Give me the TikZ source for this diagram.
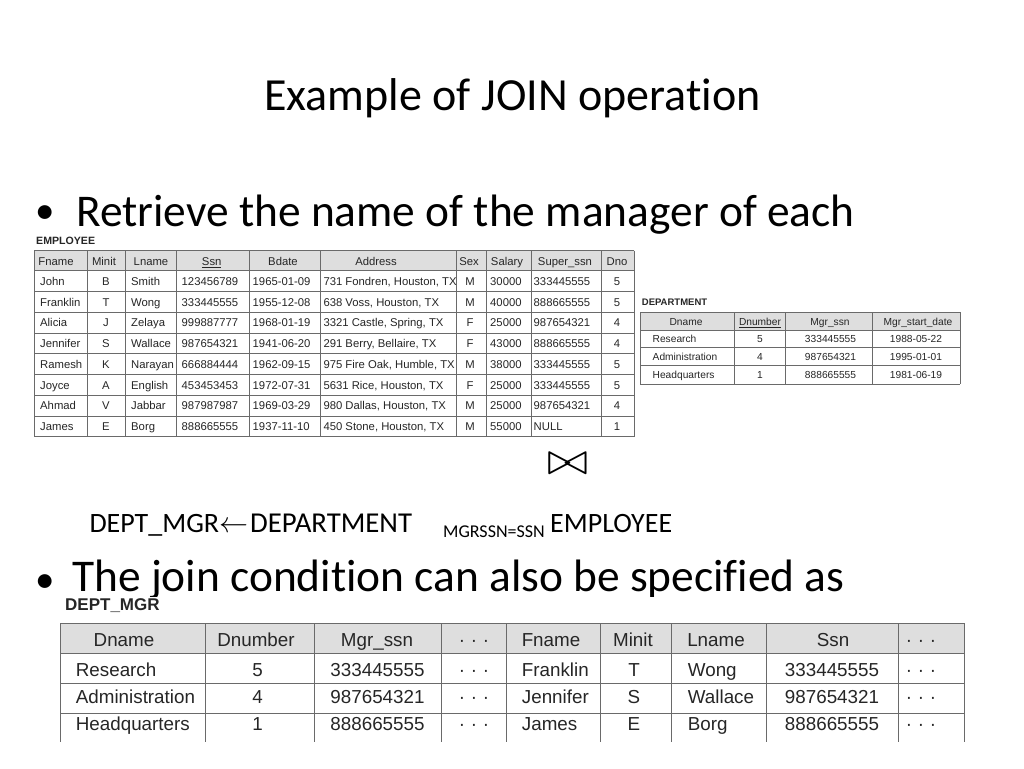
\documentclass[tikz,border=0pt]{standalone}
\usepackage{graphicx}
\usepackage{fontspec}
\setmainfont{Carlito}[Ligatures={NoCommon,NoRequired}]
\newfontfamily\tabfont{Liberation Sans}
\definecolor{gridc}{HTML}{6A6A6A}
\definecolor{headc}{HTML}{DEDEDE}
\definecolor{tabtext}{HTML}{262626}
\begin{document}
\begin{tikzpicture}[x=1pt,y=-1pt,
  slide/.style={inner sep=0pt, text=black},
  grid/.style={draw=gridc, line width=0.8pt},
  et/.style={inner sep=0pt, text=tabtext, font=\tabfont\fontsize{11.3}{13}\selectfont},
  dt/.style={inner sep=0pt, text=tabtext, font=\tabfont\fontsize{10.2}{12}\selectfont},
  mt/.style={inner sep=0pt, text=tabtext, font=\tabfont\fontsize{18.8}{22}\selectfont},
  lab/.style={inner sep=0pt, text=tabtext, anchor=base west}]
\useasboundingbox (0,0) rectangle (1024,768);
\fill[white] (0,0) rectangle (1024,768);

% ---------- slide text ----------
\node[slide, anchor=base, font=\fontsize{46}{50}\selectfont] (title) at (512.5,110.7) {Example of JOIN operation};
\node[slide, anchor=base, font=\fontsize{39}{42}\selectfont] (b1) at (45,223) {•};
\node[slide, anchor=base west, font=\fontsize{45.4}{48}\selectfont] (t1) at (76,226.7) {Retrieve the name of the manager of each};
\node[slide, anchor=base, font=\fontsize{39}{42}\selectfont] (b2) at (45,592.4) {•};
\node[slide, anchor=base west, font=\fontsize{45.4}{48}\selectfont] (t2) at (72,591.7) {The join condition can also be specified as};

% formula
\node[slide, anchor=base west, font=\fontsize{28}{30}\selectfont] (f1) at (89.3,532.3) {DEPT\_MGR};
\node[slide, anchor=base west] (f2) at (219.5,532.3) {\resizebox{29pt}{!}{$\leftarrow$}};
\node[slide, anchor=base west, font=\fontsize{28.8}{30}\selectfont] (f3) at (250,532.3) {DEPARTMENT};
\node[slide, anchor=base west, font=\fontsize{18}{20}\selectfont] (f4) at (443,537.5) {MGRSSN=SSN};
\node[slide, anchor=base west, font=\fontsize{28}{30}\selectfont] (f5) at (550,532.3) {EMPLOYEE};
\node[slide, anchor=center] (bow) at (567.5,463.5) {\resizebox{41pt}{21pt}{$\bowtie$}};

% ---------- EMPLOYEE table ----------
\node[lab, font=\tabfont\bfseries\fontsize{10.6}{12}\selectfont] (elab) at (36,244) {EMPLOYEE};
\fill[headc] (34,250.7) rectangle (634,270.7);
\foreach \x in {34,87.3,125.7,176.7,249.3,320.5,456,486.7,531,601.7,634}
  \draw[grid] (\x,250.7) -- (\x,436.7);
\draw[grid] (34,250.7) -- (634,250.7);
\foreach \k in {0,...,8}
  \draw[grid] (34,{270.7+20.75*\k}) -- (634,{270.7+20.75*\k});
\foreach \n/\x/\t in {1/56/Fname,2/104/Minit,3/151/Lname,4/211.7/\underline{Ssn},5/283/Bdate,
  6/376/Address,7/469/Sex,8/507/Salary,9/565/Super\_ssn,10/617/Dno}
  \node[et, anchor=base] (eh\n) at (\x,265.4) {\t};
\foreach \i/\fn/\mi/\ln/\ss/\bd/\ad/\sx/\sa/\su/\dn in {
  1/John/B/Smith/123456789/1965-01-09/{731 Fondren, Houston, TX}/M/30000/333445555/5,
  2/Franklin/T/Wong/333445555/1955-12-08/{638 Voss, Houston, TX}/M/40000/888665555/5,
  3/Alicia/J/Zelaya/999887777/1968-01-19/{3321 Castle, Spring, TX}/F/25000/987654321/4,
  4/Jennifer/S/Wallace/987654321/1941-06-20/{291 Berry, Bellaire, TX}/F/43000/888665555/4,
  5/Ramesh/K/Narayan/666884444/1962-09-15/{975 Fire Oak, Humble, TX}/M/38000/333445555/5,
  6/Joyce/A/English/453453453/1972-07-31/{5631 Rice, Houston, TX}/F/25000/333445555/5,
  7/Ahmad/V/Jabbar/987987987/1969-03-29/{980 Dallas, Houston, TX}/M/25000/987654321/4,
  8/James/E/Borg/888665555/1937-11-10/{450 Stone, Houston, TX}/M/55000/NULL/1}{
  \pgfmathsetmacro\yb{270.7+20.75*(\i-0.5)+4.3}
  \node[et, anchor=base west] (e\i-1) at (40,\yb) {\fn};
  \node[et, anchor=base] (e\i-2) at (106,\yb) {\mi};
  \node[et, anchor=base west] (e\i-3) at (131,\yb) {\ln};
  \node[et, anchor=base west] (e\i-4) at (181.5,\yb) {\ss};
  \node[et, anchor=base west] (e\i-5) at (252.5,\yb) {\bd};
  \node[et, anchor=base west] (e\i-6) at (323.3,\yb) {\ad};
  \node[et, anchor=base] (e\i-7) at (470,\yb) {\sx};
  \node[et, anchor=base west] (e\i-8) at (490,\yb) {\sa};
  \node[et, anchor=base west] (e\i-9) at (533.5,\yb) {\su};
  \node[et, anchor=base] (e\i-10) at (617,\yb) {\dn};
}

% ---------- DEPARTMENT table ----------
\node[lab, font=\tabfont\bfseries\fontsize{9.5}{11}\selectfont] (dlab) at (641.7,305) {DEPARTMENT};
\fill[headc] (640,312) rectangle (960,330);
\foreach \x in {640,734,785,872,960}
  \draw[grid] (\x,312) -- (\x,384);
\foreach \y in {312,330,347.7,365.7,384}
  \draw[grid] (640,\y) -- (960,\y);
\foreach \n/\x/\t in {1/686/Dname,2/760/\underline{Dnumber},3/830/Mgr\_ssn,4/918/Mgr\_start\_date}
  \node[dt, anchor=base] (dh\n) at (\x,325.6) {\t};
\foreach \i/\yb/\a/\b/\c/\d in {1/342.6/Research/5/333445555/1988-05-22,
  2/360.5/Administration/4/987654321/1995-01-01,
  3/378.4/Headquarters/1/888665555/1981-06-19}{
  \node[dt, anchor=base west] (d\i-1) at (652.5,\yb) {\a};
  \node[dt, anchor=base] (d\i-2) at (760,\yb) {\b};
  \node[dt, anchor=base] (d\i-3) at (830.5,\yb) {\c};
  \node[dt, anchor=base] (d\i-4) at (916,\yb) {\d};
}

% ---------- DEPT_MGR table (covers descenders of text above) ----------
\fill[white] (55,596.5) rectangle (975,745);
\node[lab, font=\tabfont\bfseries\fontsize{17}{19}\selectfont] (mlab) at (65,610.7) {DEPT\_MGR};
\fill[headc] (60,623.3) rectangle (964,653.3);
\foreach \x in {60,205.7,314,441.7,506.7,600,671,766.7,898.3,964}
  \draw[grid] (\x,623.3) -- (\x,742);
\foreach \y in {623.3,653.3,683.3,713.3}
  \draw[grid] (60,\y) -- (964,\y);
\def\dts{·\hspace{0.3em}·\hspace{0.3em}·}
\foreach \n/\x/\t in {1/124/Dname,2/256/Dnumber,3/377/Mgr\_ssn,4/474/\dts,5/551/Fname,
  6/633/Minit,7/716/Lname,8/833/Ssn,9/921/\dts}
  \node[mt, anchor=base] (mh\n) at (\x,646.7) {\t};
\foreach \i/\yb/\a/\b/\c/\f/\g/\h/\s in {
  1/676/Research/5/333445555/Franklin/T/Wong/333445555,
  2/703.3/Administration/4/987654321/Jennifer/S/Wallace/987654321,
  3/730/Headquarters/1/888665555/James/E/Borg/888665555}{
  \node[mt, anchor=base west] (m\i-1) at (75.7,\yb) {\a};
  \node[mt, anchor=base] (m\i-2) at (257.5,\yb) {\b};
  \node[mt, anchor=base] (m\i-3) at (377.5,\yb) {\c};
  \node[mt, anchor=base] (m\i-4) at (474,\yb) {\dts};
  \node[mt, anchor=base west] (m\i-5) at (521.7,\yb) {\f};
  \node[mt, anchor=base] (m\i-6) at (634,\yb) {\g};
  \node[mt, anchor=base west] (m\i-7) at (687.7,\yb) {\h};
  \node[mt, anchor=base] (m\i-8) at (832,\yb) {\s};
  \node[mt, anchor=base] (m\i-9) at (921,\yb) {\dts};
}
\end{tikzpicture}
\end{document}
